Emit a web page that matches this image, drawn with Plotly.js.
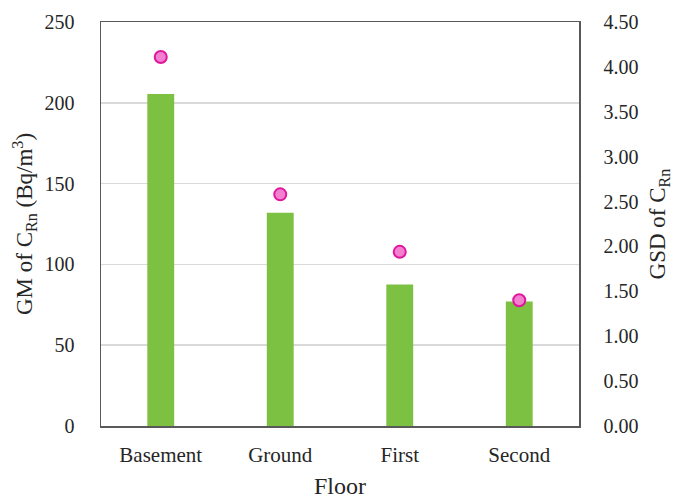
<!DOCTYPE html>
<html>
<head>
<meta charset="utf-8">
<script src="https://cdn.plot.ly/plotly-3.0.1.min.js"></script>
<style>html,body{margin:0;padding:0;background:#fff;}#chart{width:688px;height:499px;}</style>
</head>
<body>
<div id="chart"></div>
<script>
const floors = ["Basement", "Ground", "First", "Second"];
const gmValues = [205.5, 132, 87.5, 77];
const gsdValues = [4.11, 2.58, 1.94, 1.40];
const leftTicks = [0, 50, 100, 150, 200, 250];
const rightTicks = [0, 0.5, 1, 1.5, 2, 2.5, 3, 3.5, 4, 4.5];

const fam = "Liberation Serif, Times New Roman, serif";
const txt = "#262626";

const traces = [
  {
    type: "bar", x: floors, y: gmValues, yaxis: "y",
    marker: {color: "#7dc142", line: {width: 0}}
  },
  {
    type: "scatter", mode: "markers", x: floors, y: gsdValues, yaxis: "y2",
    marker: {color: "#f27fd0", size: 12, line: {color: "#e0179c", width: 2}}
  }
];

const layout = {
  width: 688, height: 499,
  margin: {l: 101, r: 109, t: 22, b: 73},
  paper_bgcolor: "#fff", plot_bgcolor: "#fff",
  showlegend: false,
  bargap: 0.775,
  font: {family: fam, size: 20, color: txt},
  xaxis: {
    type: "category",
    showline: true, linecolor: "#595959", linewidth: 1.5, mirror: true,
    ticks: "outside", ticklen: 9, tickcolor: "rgba(0,0,0,0)",
    tickfont: {family: fam, size: 21, color: txt},
    title: {text: "Floor", font: {family: fam, size: 24, color: txt}, standoff: 14},
    fixedrange: true
  },
  yaxis: {
    range: [0, 250], tickvals: leftTicks,
    showgrid: true, gridcolor: "#d9d9d9", gridwidth: 1.5,
    zeroline: false,
    showline: true, linecolor: "#595959", linewidth: 1.5,
    ticks: "outside", ticklen: 21, tickcolor: "rgba(0,0,0,0)",
    tickfont: {family: fam, size: 20, color: txt},
    title: {text: "GM of C<sub>Rn</sub> (Bq/m<sup>3</sup>)", font: {family: fam, size: 23, color: txt}, standoff: 5}
  },
  yaxis2: {
    overlaying: "y", side: "right",
    range: [0, 4.5], tickvals: rightTicks, tickformat: ".2f",
    showgrid: false, zeroline: false,
    showline: true, linecolor: "#595959", linewidth: 1.5,
    ticks: "outside", ticklen: 19, tickcolor: "rgba(0,0,0,0)",
    tickfont: {family: fam, size: 20, color: txt},
    title: {text: "GSD of C<sub>Rn</sub>", font: {family: fam, size: 23, color: txt}, standoff: 11}
  }
};

Plotly.newPlot("chart", traces, layout, {staticPlot: true, displayModeBar: false});
</script>
</body>
</html>
